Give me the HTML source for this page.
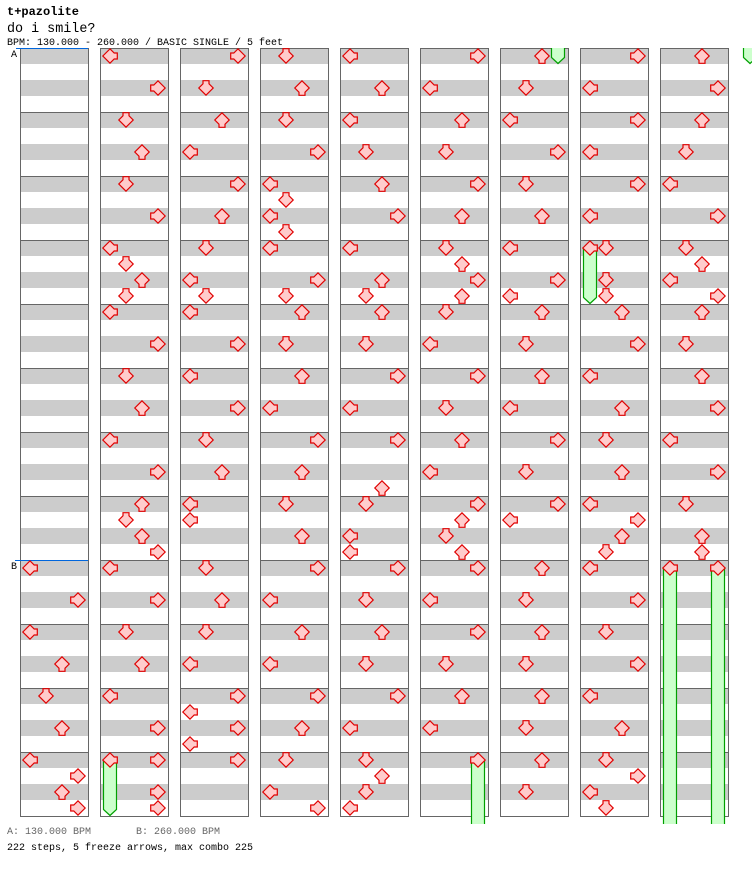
<!DOCTYPE html>
<html>
<head>
<meta charset="utf-8">
<style>
html,body{margin:0;padding:0;background:#fff;}
body{width:752px;height:876px;overflow:hidden;}
svg{display:block;}
text{font-family:"Liberation Mono",monospace;}
</style>
</head>
<body>
<svg width="752" height="876" viewBox="0 0 752 876" xmlns="http://www.w3.org/2000/svg">
<defs>
  <pattern id="st" x="0" y="48" width="68" height="32" patternUnits="userSpaceOnUse">
    <rect x="0" y="0" width="68" height="16" fill="#cccccc"/>
  </pattern>
  <g id="col">
    <rect x="1" y="48" width="67" height="768" fill="url(#st)"/>
    <path d="M0 112.5H68M0 176.5H68M0 240.5H68M0 304.5H68M0 368.5H68M0 432.5H68M0 496.5H68M0 560.5H68M0 624.5H68M0 688.5H68M0 752.5H68" stroke="#666" stroke-width="1"/>
    <rect x="0.5" y="48.5" width="68" height="768" fill="none" stroke="#666" stroke-width="1"/>
  </g>
  <polygon id="L" points="0.8,8 8,0.8 12.2,5 15.3,5 15.3,11 12.2,11 8,15.2" fill="#ffcccc" stroke="#e00000" stroke-width="1.2" stroke-linejoin="miter"/>
  <polygon id="R" points="15.2,8 8,0.8 3.8,5 0.7,5 0.7,11 3.8,11 8,15.2" fill="#ffcccc" stroke="#e00000" stroke-width="1.2" stroke-linejoin="miter"/>
  <polygon id="U" points="8,0.8 0.8,8 5,12.2 5,15.3 11,15.3 11,12.2 15.2,8" fill="#ffcccc" stroke="#e00000" stroke-width="1.2" stroke-linejoin="miter"/>
  <polygon id="D" points="8,15.2 0.8,8 5,3.8 5,0.7 11,0.7 11,3.8 15.2,8" fill="#ffcccc" stroke="#e00000" stroke-width="1.2" stroke-linejoin="miter"/>
</defs>

<!-- header text -->
<text x="7" y="15" font-size="12" font-weight="bold" fill="#000">t+pazolite</text>
<text x="7" y="32" font-size="13.4" fill="#000">do i smile?</text>
<text x="7" y="45" font-size="10" fill="#000">BPM: 130.000 - 260.000 / BASIC SINGLE / 5 feet</text>

<!-- columns -->
<use href="#col" x="20" y="0"/>
<use href="#col" x="100" y="0"/>
<use href="#col" x="180" y="0"/>
<use href="#col" x="260" y="0"/>
<use href="#col" x="340" y="0"/>
<use href="#col" x="420" y="0"/>
<use href="#col" x="500" y="0"/>
<use href="#col" x="580" y="0"/>
<use href="#col" x="660" y="0"/>

<!-- section markers -->
<path d="M16 48.5H88" stroke="#0066dd" stroke-width="1"/>
<path d="M15 560.5H88" stroke="#0066dd" stroke-width="1"/>
<text x="11" y="57" font-size="10" fill="#000">A</text>
<text x="11" y="569" font-size="10" fill="#000">B</text>

<!-- freeze arrows -->
<g fill="#ccffcc" stroke="#00a000" stroke-width="1.2">
  <polygon points="103.5,760 116.5,760 116.5,809.5 110,815.5 103.5,809.5"/>
  <path d="M471.5 824V760H484.5V824"/>
  <path d="M551.5 48V57.5L558 63.5L564.5 57.5V48"/>
  <polygon points="583.5,248 596.5,248 596.5,297.5 590,303.5 583.5,297.5"/>
  <path d="M663.5 824V568H676.5V824"/>
  <path d="M711.5 824V568H724.5V824"/>
  <path d="M743.5 48V57.5L750 63.5L756.5 57.5V48"/>
</g>

<!-- col 1 -->
<g transform="translate(20,0)">
<use href="#L" x="2" y="560"/><use href="#R" x="50" y="592"/>
<use href="#L" x="2" y="624"/><use href="#U" x="34" y="656"/>
<use href="#D" x="18" y="688"/><use href="#U" x="34" y="720"/>
<use href="#L" x="2" y="752"/><use href="#R" x="50" y="768"/><use href="#U" x="34" y="784"/><use href="#R" x="50" y="800"/>
</g>

<!-- col 2 -->
<g transform="translate(100,0)">
<use href="#L" x="2" y="48"/><use href="#R" x="50" y="80"/>
<use href="#D" x="18" y="112"/><use href="#U" x="34" y="144"/>
<use href="#D" x="18" y="176"/><use href="#R" x="50" y="208"/>
<use href="#L" x="2" y="240"/><use href="#D" x="18" y="256"/><use href="#U" x="34" y="272"/><use href="#D" x="18" y="288"/>
<use href="#L" x="2" y="304"/><use href="#R" x="50" y="336"/>
<use href="#D" x="18" y="368"/><use href="#U" x="34" y="400"/>
<use href="#L" x="2" y="432"/><use href="#R" x="50" y="464"/>
<use href="#U" x="34" y="496"/><use href="#D" x="18" y="512"/><use href="#U" x="34" y="528"/><use href="#R" x="50" y="544"/>
<use href="#L" x="2" y="560"/><use href="#R" x="50" y="592"/>
<use href="#D" x="18" y="624"/><use href="#U" x="34" y="656"/>
<use href="#L" x="2" y="688"/><use href="#R" x="50" y="720"/>
<use href="#L" x="2" y="752"/><use href="#R" x="50" y="752"/><use href="#R" x="50" y="784"/><use href="#R" x="50" y="800"/>
</g>

<!-- col 3 -->
<g transform="translate(180,0)">
<use href="#R" x="50" y="48"/><use href="#D" x="18" y="80"/>
<use href="#U" x="34" y="112"/><use href="#L" x="2" y="144"/>
<use href="#R" x="50" y="176"/><use href="#U" x="34" y="208"/>
<use href="#D" x="18" y="240"/><use href="#L" x="2" y="272"/><use href="#D" x="18" y="288"/>
<use href="#L" x="2" y="304"/><use href="#R" x="50" y="336"/>
<use href="#L" x="2" y="368"/><use href="#R" x="50" y="400"/>
<use href="#D" x="18" y="432"/><use href="#U" x="34" y="464"/>
<use href="#L" x="2" y="496"/><use href="#L" x="2" y="512"/>
<use href="#D" x="18" y="560"/><use href="#U" x="34" y="592"/>
<use href="#D" x="18" y="624"/><use href="#L" x="2" y="656"/>
<use href="#R" x="50" y="688"/><use href="#L" x="2" y="704"/><use href="#R" x="50" y="720"/><use href="#L" x="2" y="736"/>
<use href="#R" x="50" y="752"/>
</g>

<!-- col 4 -->
<g transform="translate(260,0)">
<use href="#D" x="18" y="48"/><use href="#U" x="34" y="80"/>
<use href="#D" x="18" y="112"/><use href="#R" x="50" y="144"/>
<use href="#L" x="2" y="176"/><use href="#D" x="18" y="192"/><use href="#L" x="2" y="208"/><use href="#D" x="18" y="224"/>
<use href="#L" x="2" y="240"/><use href="#R" x="50" y="272"/><use href="#D" x="18" y="288"/>
<use href="#U" x="34" y="304"/><use href="#D" x="18" y="336"/>
<use href="#U" x="34" y="368"/><use href="#L" x="2" y="400"/>
<use href="#R" x="50" y="432"/><use href="#U" x="34" y="464"/>
<use href="#D" x="18" y="496"/><use href="#U" x="34" y="528"/>
<use href="#R" x="50" y="560"/><use href="#L" x="2" y="592"/>
<use href="#U" x="34" y="624"/><use href="#L" x="2" y="656"/>
<use href="#R" x="50" y="688"/><use href="#U" x="34" y="720"/>
<use href="#D" x="18" y="752"/><use href="#L" x="2" y="784"/><use href="#R" x="50" y="800"/>
</g>

<!-- col 5 -->
<g transform="translate(340,0)">
<use href="#L" x="2" y="48"/><use href="#U" x="34" y="80"/>
<use href="#L" x="2" y="112"/><use href="#D" x="18" y="144"/>
<use href="#U" x="34" y="176"/><use href="#R" x="50" y="208"/>
<use href="#L" x="2" y="240"/><use href="#U" x="34" y="272"/><use href="#D" x="18" y="288"/>
<use href="#U" x="34" y="304"/><use href="#D" x="18" y="336"/>
<use href="#R" x="50" y="368"/><use href="#L" x="2" y="400"/>
<use href="#R" x="50" y="432"/><use href="#U" x="34" y="480"/>
<use href="#D" x="18" y="496"/><use href="#L" x="2" y="528"/><use href="#L" x="2" y="544"/>
<use href="#R" x="50" y="560"/><use href="#D" x="18" y="592"/>
<use href="#U" x="34" y="624"/><use href="#D" x="18" y="656"/>
<use href="#R" x="50" y="688"/><use href="#L" x="2" y="720"/>
<use href="#D" x="18" y="752"/><use href="#U" x="34" y="768"/><use href="#D" x="18" y="784"/><use href="#L" x="2" y="800"/>
</g>

<!-- col 6 -->
<g transform="translate(420,0)">
<use href="#R" x="50" y="48"/><use href="#L" x="2" y="80"/>
<use href="#U" x="34" y="112"/><use href="#D" x="18" y="144"/>
<use href="#R" x="50" y="176"/><use href="#U" x="34" y="208"/>
<use href="#D" x="18" y="240"/><use href="#U" x="34" y="256"/><use href="#R" x="50" y="272"/><use href="#U" x="34" y="288"/>
<use href="#D" x="18" y="304"/><use href="#L" x="2" y="336"/>
<use href="#R" x="50" y="368"/><use href="#D" x="18" y="400"/>
<use href="#U" x="34" y="432"/><use href="#L" x="2" y="464"/>
<use href="#R" x="50" y="496"/><use href="#U" x="34" y="512"/><use href="#D" x="18" y="528"/><use href="#U" x="34" y="544"/>
<use href="#R" x="50" y="560"/><use href="#L" x="2" y="592"/>
<use href="#R" x="50" y="624"/><use href="#D" x="18" y="656"/>
<use href="#U" x="34" y="688"/><use href="#L" x="2" y="720"/>
<use href="#R" x="50" y="752"/>
</g>

<!-- col 7 -->
<g transform="translate(500,0)">
<use href="#U" x="34" y="48"/><use href="#D" x="18" y="80"/>
<use href="#L" x="2" y="112"/><use href="#R" x="50" y="144"/>
<use href="#D" x="18" y="176"/><use href="#U" x="34" y="208"/>
<use href="#L" x="2" y="240"/><use href="#R" x="50" y="272"/><use href="#L" x="2" y="288"/>
<use href="#U" x="34" y="304"/><use href="#D" x="18" y="336"/>
<use href="#U" x="34" y="368"/><use href="#L" x="2" y="400"/>
<use href="#R" x="50" y="432"/><use href="#D" x="18" y="464"/>
<use href="#R" x="50" y="496"/><use href="#L" x="2" y="512"/>
<use href="#U" x="34" y="560"/><use href="#D" x="18" y="592"/>
<use href="#U" x="34" y="624"/><use href="#D" x="18" y="656"/>
<use href="#U" x="34" y="688"/><use href="#D" x="18" y="720"/>
<use href="#U" x="34" y="752"/><use href="#D" x="18" y="784"/>
</g>

<!-- col 8 -->
<g transform="translate(580,0)">
<use href="#R" x="50" y="48"/><use href="#L" x="2" y="80"/>
<use href="#R" x="50" y="112"/><use href="#L" x="2" y="144"/>
<use href="#R" x="50" y="176"/><use href="#L" x="2" y="208"/>
<use href="#L" x="2" y="240"/><use href="#D" x="18" y="240"/><use href="#D" x="18" y="272"/><use href="#D" x="18" y="288"/>
<use href="#U" x="34" y="304"/><use href="#R" x="50" y="336"/>
<use href="#L" x="2" y="368"/><use href="#U" x="34" y="400"/>
<use href="#D" x="18" y="432"/><use href="#U" x="34" y="464"/>
<use href="#L" x="2" y="496"/><use href="#R" x="50" y="512"/><use href="#U" x="34" y="528"/><use href="#D" x="18" y="544"/>
<use href="#L" x="2" y="560"/><use href="#R" x="50" y="592"/>
<use href="#D" x="18" y="624"/><use href="#R" x="50" y="656"/>
<use href="#L" x="2" y="688"/><use href="#U" x="34" y="720"/>
<use href="#D" x="18" y="752"/><use href="#R" x="50" y="768"/><use href="#L" x="2" y="784"/><use href="#D" x="18" y="800"/>
</g>

<!-- col 9 -->
<g transform="translate(660,0)">
<use href="#U" x="34" y="48"/><use href="#R" x="50" y="80"/>
<use href="#U" x="34" y="112"/><use href="#D" x="18" y="144"/>
<use href="#L" x="2" y="176"/><use href="#R" x="50" y="208"/>
<use href="#D" x="18" y="240"/><use href="#U" x="34" y="256"/><use href="#L" x="2" y="272"/><use href="#R" x="50" y="288"/>
<use href="#U" x="34" y="304"/><use href="#D" x="18" y="336"/>
<use href="#U" x="34" y="368"/><use href="#R" x="50" y="400"/>
<use href="#L" x="2" y="432"/><use href="#R" x="50" y="464"/>
<use href="#D" x="18" y="496"/><use href="#U" x="34" y="528"/><use href="#U" x="34" y="544"/>
<use href="#L" x="2" y="560"/><use href="#R" x="50" y="560"/>
</g>

<!-- footer -->
<text x="7" y="834" font-size="10" fill="#666">A: 130.000 BPM</text>
<text x="136" y="834" font-size="10" fill="#666">B: 260.000 BPM</text>
<text x="7" y="850" font-size="10" fill="#000">222 steps, 5 freeze arrows, max combo 225</text>
</svg>
</body>
</html>
